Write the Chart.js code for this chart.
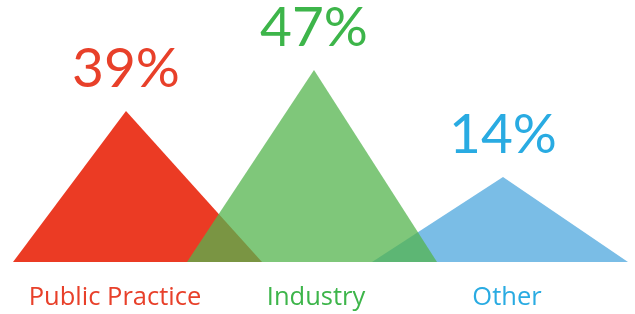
<!DOCTYPE html>
<html>
  <head>
    <script src="https://cdn.jsdelivr.net/npm/chart.js@4/dist/chart.umd.min.js"></script>
    <style>
      body { margin: 0; background: #fff; }
      #wrap { width: 635px; height: 314px; }
    </style>
  </head>

  <body>
    <div id="wrap">
      <canvas id="canvas"></canvas>
    </div>
    <script>
      // values
      const categories = ['Public Practice', 'Industry', 'Other'];
      const percents = [39, 47, 14];
      const peakHeight = [151, 192, 85];
      const peakAt = [126, 314, 503];
      const spanFrom = [13, 187, 372];
      const spanTo = [262, 437, 628];

      const fills = ['#eb3b24', 'rgba(84,180,78,0.75)', '#7abde6'];
      const textColors = ['#e8402a', '#3db54a', '#29abe2'];
      const order = [1, 0, 2];

      const datasets = categories.map((c, i) => ({
        label: c,
        data: [
          { x: spanFrom[i], y: 0 },
          { x: peakAt[i], y: peakHeight[i] },
          { x: spanTo[i], y: 0 },
        ],
        backgroundColor: fills[i],
        borderWidth: 0,
        pointRadius: 0,
        fill: 'origin',
        tension: 0,
        order: order[i],
      }));

      const labelsPlugin = {
        id: 'peakLabels',
        afterDatasetsDraw(chart, args, opts) {
          const { ctx, scales } = chart;
          ctx.save();
          ctx.textAlign = 'center';
          ctx.textBaseline = 'alphabetic';
          categories.forEach((c, i) => {
            const px = scales.x.getPixelForValue(peakAt[i]);
            const py = scales.y.getPixelForValue(peakHeight[i]);
            ctx.fillStyle = textColors[i];
            ctx.font = '400 55px Lato';
            ctx.fillText(percents[i] + '%', px, py - 24);
            ctx.font = '25.5px "Open Sans"';
            ctx.fillText(c, px + opts.nameShift[i], 305);
          });
          ctx.restore();
        },
      };

      new Chart(document.getElementById('canvas'), {
        type: 'line',
        data: { datasets },
        options: {
          responsive: true,
          maintainAspectRatio: false,
          animation: false,
          layout: { padding: { left: 0, right: 0, top: 0, bottom: 52 } },
          scales: {
            x: { type: 'linear', min: 0, max: 635, display: false },
            y: { min: 0, max: 262, display: false },
          },
          plugins: {
            legend: { display: false },
            tooltip: { enabled: false },
            peakLabels: { nameShift: [-11, 2, 4] },
          },
        },
        plugins: [labelsPlugin],
      });
    </script>
  </body>
</html>
